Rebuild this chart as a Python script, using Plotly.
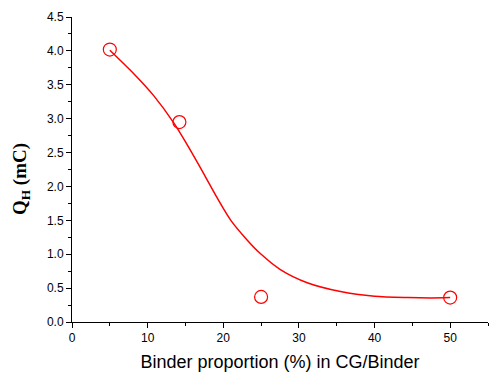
import plotly.graph_objects as go

# measured points
binder_pct = [5, 14.2, 25, 50]
q_h = [4.02, 2.95, 0.37, 0.36]

# fitted curve
fit_x = [5.0, 8.2, 10.8, 13.5, 15.2, 16.8, 17.7, 19.2, 21.0, 23.0, 24.9,
         27.6, 31.1, 35.5, 40.0, 44.4, 47.5, 50.0]
fit_y = [4.01, 3.66, 3.34, 2.93, 2.62, 2.31, 2.13, 1.83, 1.50, 1.23, 1.01,
         0.77, 0.58, 0.45, 0.38, 0.36, 0.355, 0.36]

red = "#ff0000"

fig = go.Figure()
fig.add_trace(go.Scatter(x=fit_x, y=fit_y, mode="lines",
                         line=dict(color=red, width=1.5, shape="spline", smoothing=0.8),
                         showlegend=False, hoverinfo="skip"))
fig.add_trace(go.Scatter(x=binder_pct, y=q_h, mode="markers",
                         marker=dict(symbol="circle-open", size=13, color=red,
                                     line=dict(width=1.2, color=red)),
                         showlegend=False))

axis_common = dict(showgrid=False, zeroline=False, showline=True, linecolor="black",
                   linewidth=1, ticks="outside", ticklen=5, tickwidth=1, tickcolor="black",
                   automargin=False,
                   tickfont=dict(family="Liberation Sans, Arial", size=12, color="black"))

fig.update_xaxes(range=[0, 55], tick0=0, dtick=10,
                 minor=dict(ticks="outside", ticklen=3, dtick=5, tickcolor="black"),
                 title=dict(text="Binder proportion (%) in CG/Binder", standoff=10,
                            font=dict(family="Liberation Sans, Arial", size=18, color="black")),
                 **axis_common)
fig.update_yaxes(range=[0, 4.5], tick0=0, dtick=0.5, tickformat=".1f",
                 minor=dict(ticks="outside", ticklen=3, dtick=0.25, tickcolor="black"),
                 **axis_common)

# y title as an annotation so it sits a little below centre, like the original
fig.add_annotation(text="<b>Q<sub>H</sub> (mC)</b>", textangle=-90,
                   xref="paper", yref="paper", x=-0.124, y=0.47,
                   xanchor="center", yanchor="middle", showarrow=False, borderpad=0,
                   font=dict(family="Liberation Serif, Times New Roman", size=19, color="black"))

# page body adds an 8px offset, so the figure is drawn a bit smaller
fig.update_layout(width=492, height=375, margin=dict(l=64, r=12, t=9, b=61),
                  plot_bgcolor="white", paper_bgcolor="white")

fig.write_html("out.html")
